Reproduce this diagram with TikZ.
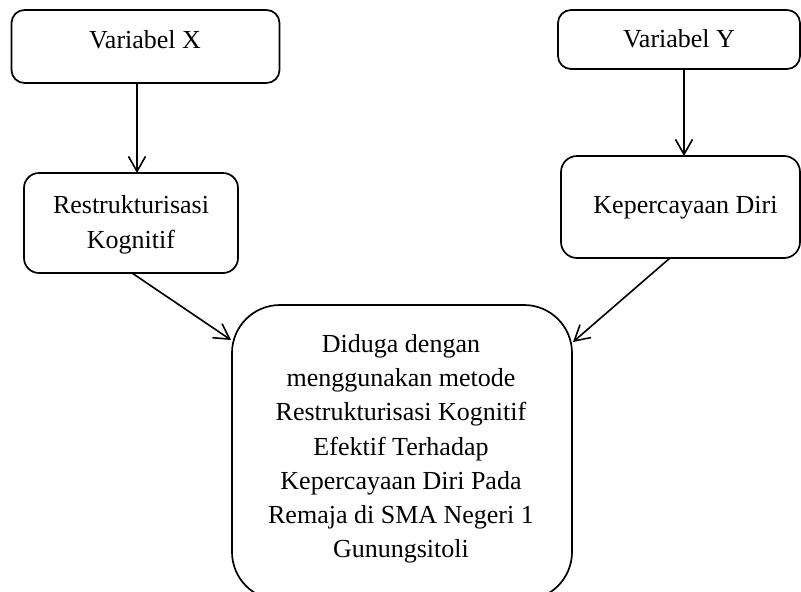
\documentclass[tikz,border=0pt]{standalone}
\usepackage{fontspec}
\setmainfont{Liberation Serif}
\usetikzlibrary{arrows.meta}
\begin{document}
\begin{tikzpicture}[x=1pt,y=-1pt,
  box/.style={draw=black,line width=1.7pt,inner sep=0pt,outer sep=0pt},
  lbl/.style={inner sep=0pt,align=center,font=\fontsize{26}{35}\selectfont},
  arr/.style={line width=1.6pt,-{Straight Barb[length=15pt,width=17pt,line width=1.6pt]}}]
\useasboundingbox (0,0) rectangle (801,592);
% boxes
\node[box,rounded corners=13pt,minimum width=268pt,minimum height=73pt] (vx) at (145.5,46.5) {};
\node[box,rounded corners=13pt,minimum width=242pt,minimum height=59pt] (vy) at (679,39.5) {};
\node[box,rounded corners=15pt,minimum width=214pt,minimum height=100pt] (rk) at (131,223) {};
\node[box,rounded corners=16pt,minimum width=239pt,minimum height=102pt] (kd) at (680.5,207) {};
\node[box,rounded corners=48pt,minimum width=340pt,minimum height=295pt] (big) at (402,452.5) {};
% texts
\node[lbl,anchor=base] (tvx) at (145,48) {Variabel X};
\node[lbl,anchor=base] (tvy) at (679,47) {Variabel Y};
\node[lbl,anchor=north] (trk) at (131,195.3) {Restrukturisasi\\Kognitif};
\node[lbl,anchor=base] (tkd) at (685.5,213) {Kepercayaan Diri};
\node[lbl,anchor=north,font=\fontsize{26}{34.2}\selectfont] (tbig) at (401,334.3)
  {Diduga dengan\\menggunakan metode\\Restrukturisasi Kognitif\\Efektif Terhadap\\Kepercayaan Diri Pada\\Remaja di SMA Negeri 1\\Gunungsitoli};
% arrow ends
\coordinate (bl) at (231,340);
\coordinate (br) at (573,342);
% connectors
\draw[arr] ([xshift=-8.5pt]vx.south) -- ([xshift=-8.5pt]vx.south |- rk.north);
\draw[arr] ([xshift=5pt]vy.south) -- ([xshift=5pt]vy.south |- kd.north);
\draw[arr] ([xshift=1pt]rk.south) -- (bl);
\draw[arr] ([xshift=-10.5pt]kd.south) -- (br);
\end{tikzpicture}
\end{document}
